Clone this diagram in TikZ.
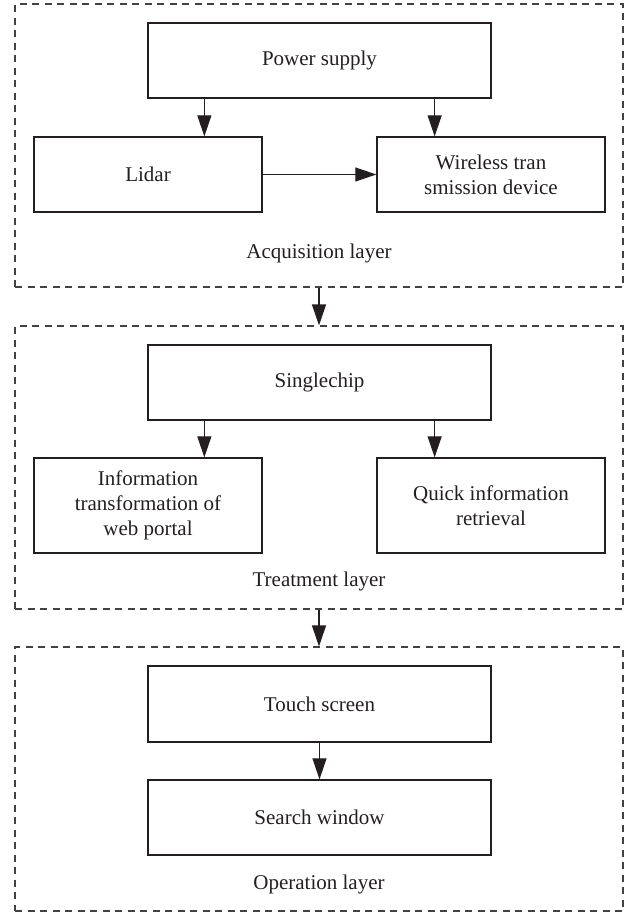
\documentclass[tikz,border=0pt]{standalone}
\usepackage{fontspec}
\setmainfont{Liberation Serif}
\usetikzlibrary{arrows.meta}
\definecolor{ink}{HTML}{231F20}
\tikzset{
  x=1pt, y=-1pt,
  every node/.style={font=\fontsize{21}{25}\selectfont, text=ink, align=center, inner sep=0pt},
  block/.style={draw=ink, line width=1.3pt, rectangle},
  layer/.style={draw=ink!85, line width=1.1pt, dash pattern=on 7pt off 5.5pt, rectangle},
  arr/.style={draw=ink, line width=1.1pt, -{Triangle[length=21pt,width=14pt]}},
  caption/.style={}
}
\begin{document}
\begin{tikzpicture}
\useasboundingbox (0,0) rectangle (631,913);

% layer frames
\node[layer, minimum width=608pt, minimum height=283pt] (acq) at (319,145.5) {};
\node[layer, minimum width=608pt, minimum height=283pt] (treat) at (319,467.5) {};
\node[layer, minimum width=608pt, minimum height=264pt] (oper) at (319,779) {};

% acquisition layer
\node[block, minimum width=343pt, minimum height=75pt] (ps) at (319.5,60.5) {Power supply};
\node[block, minimum width=228pt, minimum height=75pt] (lidar) at (148,174.5) {Lidar};
\node[block, minimum width=228pt, minimum height=75pt] (wl) at (491,174.5) {Wireless tran\\smission device};
\node[caption] (acqlab) at (319,253) {Acquisition layer};

% treatment layer
\node[block, minimum width=343pt, minimum height=75pt] (sc) at (319.5,382.5) {Singlechip};
\node[block, minimum width=228pt, minimum height=95pt] (info) at (148,505.5) {Information\\transformation of\\web portal};
\node[block, minimum width=228pt, minimum height=95pt] (quick) at (491,505.5) {Quick information\\retrieval};
\node[caption] (treatlab) at (319,581) {Treatment layer};

% operation layer
\node[block, minimum width=343pt, minimum height=76pt] (touch) at (319.5,704) {Touch screen};
\node[block, minimum width=343pt, minimum height=75pt] (search) at (319.5,817.5) {Search window};
\node[caption] (operlab) at (319,884) {Operation layer};

% connectors inside the layers
\draw[arr] ([xshift=57pt]ps.south west) -- ([xshift=57pt]ps.south west |- lidar.north);
\draw[arr] ([xshift=-57pt]ps.south east) -- ([xshift=-57pt]ps.south east |- wl.north);
\draw[arr] (lidar.east) -- (wl.west);
\draw[arr] ([xshift=57pt]sc.south west) -- ([xshift=57pt]sc.south west |- info.north);
\draw[arr] ([xshift=-57pt]sc.south east) -- ([xshift=-57pt]sc.south east |- quick.north);
\draw[arr] (touch.south) -- (search.north);

% connectors between the layers
\draw[arr] (acq.south) -- (treat.north);
\draw[arr] (treat.south) -- (oper.north);
\end{tikzpicture}
\end{document}
